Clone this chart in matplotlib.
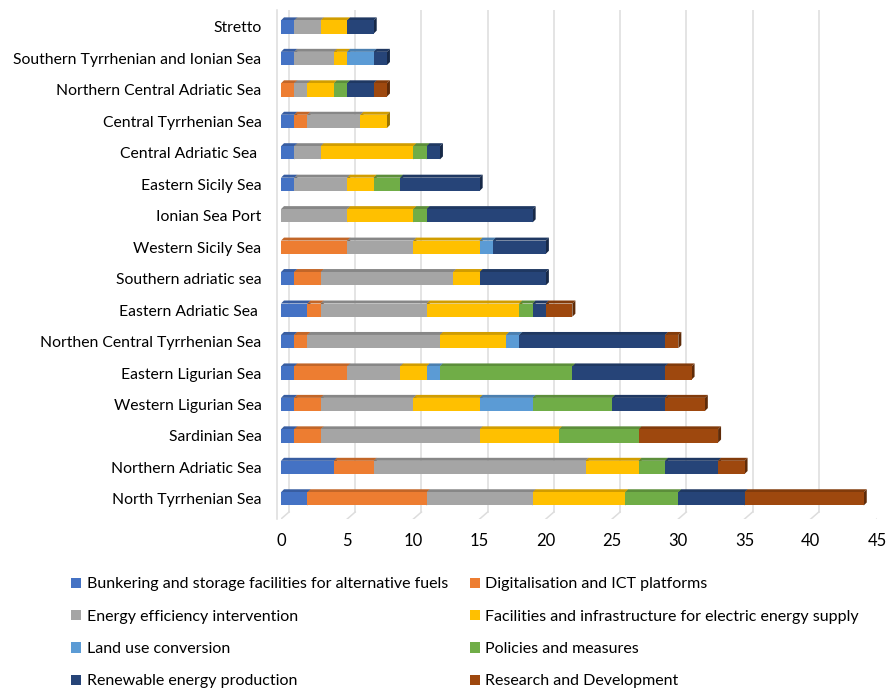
import matplotlib
matplotlib.use("Agg")
import matplotlib.pyplot as plt
import matplotlib.colors as mcolors
from matplotlib.patches import Polygon, Patch
import numpy as np

plt.rcParams['font.family'] = ['Lato', 'DejaVu Sans']

# categories, bottom to top
areas = [
    "North Tyrrhenian Sea",
    "Northern Adriatic Sea",
    "Sardinian Sea",
    "Western Ligurian Sea",
    "Eastern Ligurian Sea",
    "Northen Central Tyrrhenian Sea",
    "Eastern Adriatic Sea ",
    "Southern adriatic sea",
    "Western Sicily Sea",
    "Ionian Sea Port",
    "Eastern Sicily Sea",
    "Central Adriatic Sea ",
    "Central Tyrrhenian Sea",
    "Northern Central Adriatic Sea",
    "Southern Tyrrhenian and Ionian Sea",
    "Stretto",
]

bunkering   = [2, 4, 1, 1, 1, 1, 2, 1, 0, 0, 1, 1, 1, 0, 1, 1]
digital     = [9, 3, 2, 2, 4, 1, 1, 2, 5, 0, 0, 0, 1, 1, 0, 0]
efficiency  = [8, 16, 12, 7, 4, 10, 8, 10, 5, 5, 4, 2, 4, 1, 3, 2]
electric    = [7, 4, 6, 5, 2, 5, 7, 2, 5, 5, 2, 7, 2, 2, 1, 2]
land_use    = [0, 0, 0, 4, 1, 1, 0, 0, 1, 0, 0, 0, 0, 0, 2, 0]
policies    = [4, 2, 6, 6, 10, 0, 1, 0, 0, 1, 2, 1, 0, 1, 0, 0]
renewable   = [5, 4, 0, 4, 7, 11, 1, 5, 4, 8, 6, 1, 0, 2, 1, 2]
research    = [9, 2, 6, 3, 2, 1, 2, 0, 0, 0, 0, 0, 0, 1, 0, 0]

series_names = [
    "Bunkering and storage facilities for alternative fuels",
    "Digitalisation and ICT platforms",
    "Energy efficiency intervention",
    "Facilities and infrastructure for electric energy supply",
    "Land use conversion",
    "Policies and measures",
    "Renewable energy production",
    "Research and Development",
]
series = [bunkering, digital, efficiency, electric, land_use, policies, renewable, research]
colors = ["#4472C4", "#ED7D31", "#A5A5A5", "#FFC000",
          "#5B9BD5", "#70AD47", "#264478", "#9E480E"]

W, H = 891, 694
fig = plt.figure(figsize=(W / 100, H / 100), dpi=100)
ax = fig.add_axes([281 / W, 1 - 519 / H, (877 - 281) / W, (519 - 10) / H])

n = len(areas)
ypos = np.arange(n)
ax.set_xlim(0, 45)
ax.set_ylim(-0.64, n - 1 + 0.54)

# pixel -> data depth of the 3D look
px_x = 45 / (877 - 281)
px_y = (n - 1 + 0.54 + 0.64) / (519 - 10)
dx, dy = 3 * px_x, 3 * px_y
gdx, gdy = 8 * px_x, 7 * px_y

# back wall gridlines + floor lines
ymin, ymax = ax.get_ylim()
for t in range(0, 46, 5):
    ax.plot([t + gdx, t + gdx], [ymin + gdy, ymax], color="#DDDDDD", lw=1.1, zorder=0)
    ax.plot([t, t + gdx], [ymin, ymin + gdy], color="#DDDDDD", lw=1.1, zorder=0)
ax.plot([-0.3, -0.3], [ymin, ymax], color="#DDDDDD", lw=1.1, zorder=0, clip_on=False)


def shade(c, f):
    r, g, b = mcolors.to_rgb(c)
    return (r * f, g * f, b * f)


bh = 0.42
left = np.zeros(n)
z = 2
for vals, col in zip(series, colors):
    vals = np.array(vals, dtype=float)
    for i in range(n):
        if vals[i] <= 0:
            continue
        x0, x1 = left[i], left[i] + vals[i]
        yb, yt = ypos[i] - bh / 2, ypos[i] + bh / 2
        ax.add_patch(Polygon([(x0, yt), (x1, yt), (x1 + dx, yt + dy), (x0 + dx, yt + dy)],
                             closed=True, fc=shade(col, 0.82), ec="none", zorder=z))
        ax.add_patch(Polygon([(x1, yb), (x1 + dx, yb + dy), (x1 + dx, yt + dy), (x1, yt)],
                             closed=True, fc=shade(col, 0.6), ec="none", zorder=z))
    ax.barh(ypos, vals, left=left, height=bh, color=col, zorder=z + 1)
    left += vals
    z += 2

ax.set_yticks(ypos)
ax.set_yticklabels(areas, fontsize=11.3)
ax.set_xticks(range(0, 46, 5))
ax.tick_params(axis="both", length=0)
ax.tick_params(axis="x", labelsize=12, pad=10)
ax.tick_params(axis="y", pad=14)
for s in ax.spines.values():
    s.set_visible(False)

# legend, row-wise order in two columns
handles = [Patch(facecolor=c) for c in colors]
order = [0, 2, 4, 6, 1, 3, 5, 7]
leg = fig.legend([handles[k] for k in order], [series_names[k] for k in order],
                 ncol=2, loc="upper left", bbox_to_anchor=(57 / W, 1 - 563 / H),
                 frameon=False, fontsize=11.5, handlelength=0.6, handleheight=0.6,
                 handletextpad=0.35, columnspacing=1.4, labelspacing=1.15)

fig.savefig("out.png", dpi=100)
